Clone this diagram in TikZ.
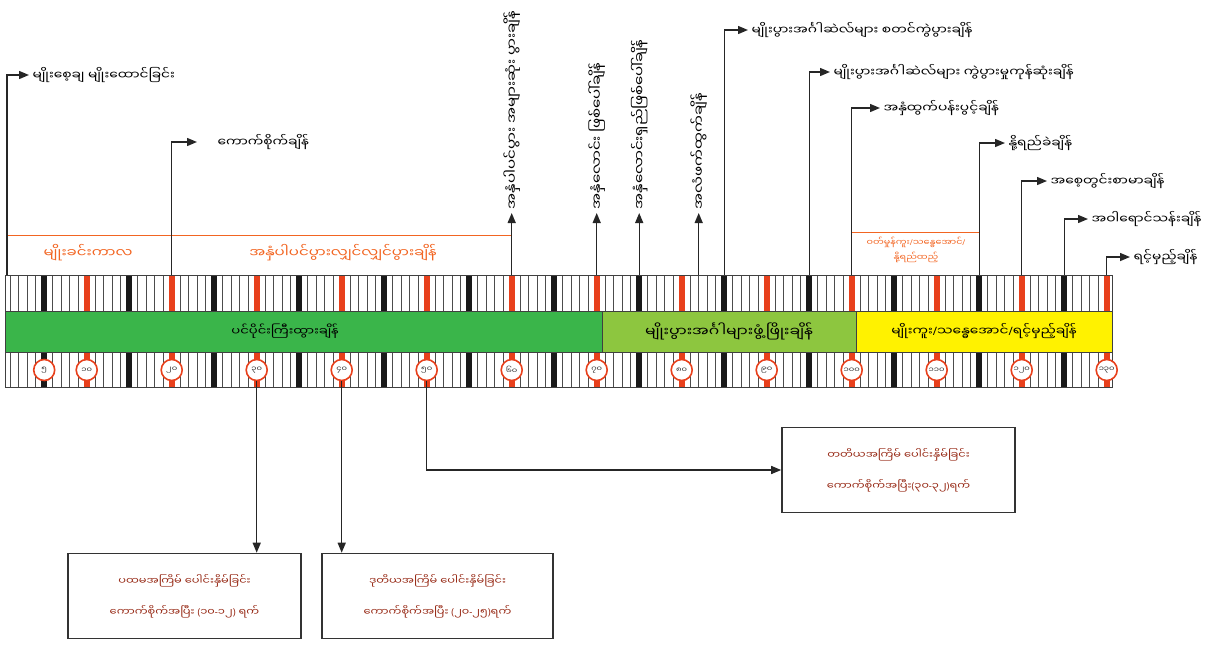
\documentclass[tikz,border=0pt]{standalone}
\usepackage{fontspec}
\newfontfamily\mmfont[Script=Myanmar,FakeStretch=1.2]{Noto Sans Myanmar UI}
\newfontfamily\latfont{Noto Sans}
\newcommand\lat[1]{{\latfont #1}}
\usetikzlibrary{arrows.meta}
\definecolor{markred}{RGB}{232,64,28}
\definecolor{lblorange}{RGB}{242,101,34}
\definecolor{boxtext}{RGB}{150,40,20}
\definecolor{vegband}{RGB}{58,181,74}
\definecolor{repband}{RGB}{141,198,63}
\definecolor{ripband}{RGB}{255,242,0}

\begin{document}
\begin{tikzpicture}[x=1pt,y=-1pt,font=\mmfont\fontsize{11.5}{13}\selectfont,inner ysep=0pt,
  arr/.style={-{Triangle[length=10pt,width=8pt]},line width=1.4pt,draw=black!85},
  daymark/.style={circle,draw=markred,line width=1.6pt,fill=white,inner sep=0pt,minimum size=21pt,font=\mmfont\fontsize{7}{7}\selectfont,text=black!80},
  wbox/.style={draw=black!80,line width=1.6pt,inner sep=3pt,minimum width=233pt,minimum height=85pt,align=center,text=boxtext,font=\mmfont\fontsize{9.5}{31}\selectfont},
  orangelbl/.style={text=lblorange,font=\mmfont\fontsize{12.5}{14}\selectfont},
  vlabel/.style={rotate=90,anchor=west,font=\mmfont\fontsize{12.5}{14}\selectfont},
  thin/.style={line width=1.3pt,draw=black!70}]
\useasboundingbox (0,0) rectangle (1213,646);
% bands
\fill[vegband] (5,311) rectangle (602,352);
\fill[repband] (602,311) rectangle (856,352);
\fill[ripband] (856,311) rectangle (1112,352);
\node[font=\mmfont\fontsize{11}{13}\selectfont] (veg) at (285,331) {ပင်ပိုင်းကြီးထွားချိန်};
\node[font=\mmfont\fontsize{13}{14}\selectfont] (rep) at (729,331) {မျိုးပွားအင်္ဂါများဖွံ့ဖြိုးချိန်};
\node[font=\mmfont\fontsize{11.5}{14}\selectfont] (rip) at (984,331) {မျိုးကူး\lat{/}သန္ဓေအောင်\lat{/}ရင့်မှည့်ချိန်};
% day ticks
\foreach \d in {1,...,130}{
  \pgfmathtruncatemacro\r{mod(\d,5)}
  \ifnum\r>0
    \draw[thin] ({1.7+8.5*\d},275) -- ++(0,36) ({1.7+8.5*\d},352) -- ++(0,35);
  \fi
}
\foreach \d in {5,15,...,125}{
  \fill[black!90] ({1.7+8.5*\d-3.2},275) rectangle ++(6.4,36);
  \fill[black!90] ({1.7+8.5*\d-3.2},352) rectangle ++(6.4,35);
}
\foreach \d in {10,20,...,130}{
  \fill[markred] ({1.7+8.5*\d-3.2},275) rectangle ++(6.4,36);
  \fill[markred] ({1.7+8.5*\d-3.2},352) rectangle ++(6.4,35);
}
\draw[black!75,line width=1pt] (5,275) rectangle (1112,387);
\draw[black!75,line width=1pt] (5,311) -- (1112,311) (5,352) -- (1112,352);
\draw[black!75,line width=1pt] (602,311) -- (602,352) (856,311) -- (856,352);
% day numbers
\foreach \d/\n in {5/၅,10/၁၀,20/၂၀,30/၃၀,40/၄၀,50/၅၀,60/၆၀,70/၇၀,80/၈၀,90/၉၀,100/၁၀၀,110/၁၁၀,120/၁၂၀,130/၁၃၀}
  \node[daymark] (c\d) at ({1.7+8.5*\d},370) {\n};
% periods above the bar
\draw[lblorange,line width=1pt] (7,235) -- (511.7,235);
\draw[lblorange,line width=1pt] (851.7,232) -- (979.2,232);
\node[orangelbl] (nursery) at (88,253) {မျိုးခင်းကာလ};
\node[orangelbl] (tiller) at (343,253) {အနှံပါပင်ပွားလျှင်လျှင်ပွားချိန်};
\node[orangelbl,font=\mmfont\fontsize{8}{15}\selectfont,align=center] (flower) at (916,250) {ဝတ်မှုန်ကူး\lat{/}သန္ဓေအောင်\lat{/}\\နို့ရည်ထည့်};
% stage points on the bar
\coordinate (d0) at (7,275);
\coordinate (d20) at (171.7,275);
\coordinate (d60) at (511.7,275);
\coordinate (d70) at (596.7,275);
\coordinate (d75) at (639.2,275);
\coordinate (d82) at (698.7,275);
\coordinate (d85) at (724.2,275);
\coordinate (d95) at (809.2,275);
\coordinate (d100) at (851.7,275);
\coordinate (d115) at (979.2,275);
\coordinate (d120) at (1021.7,275);
\coordinate (d125) at (1064.2,275);
\coordinate (d130) at (1106.7,275);
% stage labels
\node[anchor=west] (t0) at (29,75) {မျိုးစေ့ချ မျိုးထောင်ခြင်း};
\coordinate (e20) at (197,142);
\node[anchor=west] (t20) at (214,142) {ကောက်စိုက်ချိန်};
\node[vlabel] (v60) at (511.7,213) {အနှံပါပင်ပွား အများဆုံး ပွားချိန်};
\node[vlabel] (v70) at (596.7,213) {အနှံလောင်း ဖြစ်ပေါ်ချိန်};
\node[vlabel] (v75) at (639.2,213) {အနှံလောင်းရှည်ဖြစ်ပေါ်ချိန်};
\node[vlabel] (v82) at (698.7,213) {အလံဖက်ထွက်ချိန်};
\node[anchor=west] (t85) at (748,30) {မျိုးပွားအင်္ဂါဆဲလ်များ စတင်ကွဲပွားချိန်};
\node[anchor=west] (t95) at (830,72) {မျိုးပွားအင်္ဂါဆဲလ်များ ကွဲပွားမှုကုန်ဆုံးချိန်};
\node[anchor=west] (t100) at (880,108) {အနှံထွက်ပန်းပွင့်ချိန်};
\node[anchor=west] (t115) at (1005,143) {နို့ရည်ခဲချိန်};
\node[anchor=west] (t120) at (1047,181) {အစေ့တွင်းစာမာချိန်};
\node[anchor=west] (t125) at (1088,219) {အဝါရောင်သန်းချိန်};
\node[anchor=west] (t130) at (1130,257) {ရင့်မှည့်ချိန်};
\draw[arr] (d0) |- (t0.west);
\draw[arr] (d20) |- (e20);
\draw[arr] (d60) -- (v60.west);
\draw[arr] (d70) -- (v70.west);
\draw[arr] (d75) -- (v75.west);
\draw[arr] (d82) -- (v82.west);
\draw[arr] (d85) |- (t85.west);
\draw[arr] (d95) |- (t95.west);
\draw[arr] (d100) |- (t100.west);
\draw[arr] (d115) |- (t115.west);
\draw[arr] (d120) |- (t120.west);
\draw[arr] (d125) |- (t125.west);
\draw[arr] (d130) |- (t130.west);
% weeding boxes
\node[wbox] (b1) at (184.5,596) {ပထမအကြိမ် ပေါင်းနှိမ်ခြင်း\\ကောက်စိုက်အပြီး \lat{(}၁၀\lat{-}၁၂\lat{)} ရက်};
\node[wbox,minimum width=231pt] (b2) at (437.5,596) {ဒုတိယအကြိမ် ပေါင်းနှိမ်ခြင်း\\ကောက်စိုက်အပြီး \lat{(}၂၀\lat{-}၂၅\lat{)}ရက်};
\node[wbox] (b3) at (898.5,470) {တတိယအကြိမ် ပေါင်းနှိမ်ခြင်း\\ကောက်စိုက်အပြီး\lat{(}၃၀\lat{-}၃၂\lat{)}ရက်};
\draw[arr] (c30.south) -- (c30.south |- b1.north);
\draw[arr] (c40.south) -- (c40.south |- b2.north);
\draw[arr] (c50.south) |- (b3.west);
\end{tikzpicture}
\end{document}
